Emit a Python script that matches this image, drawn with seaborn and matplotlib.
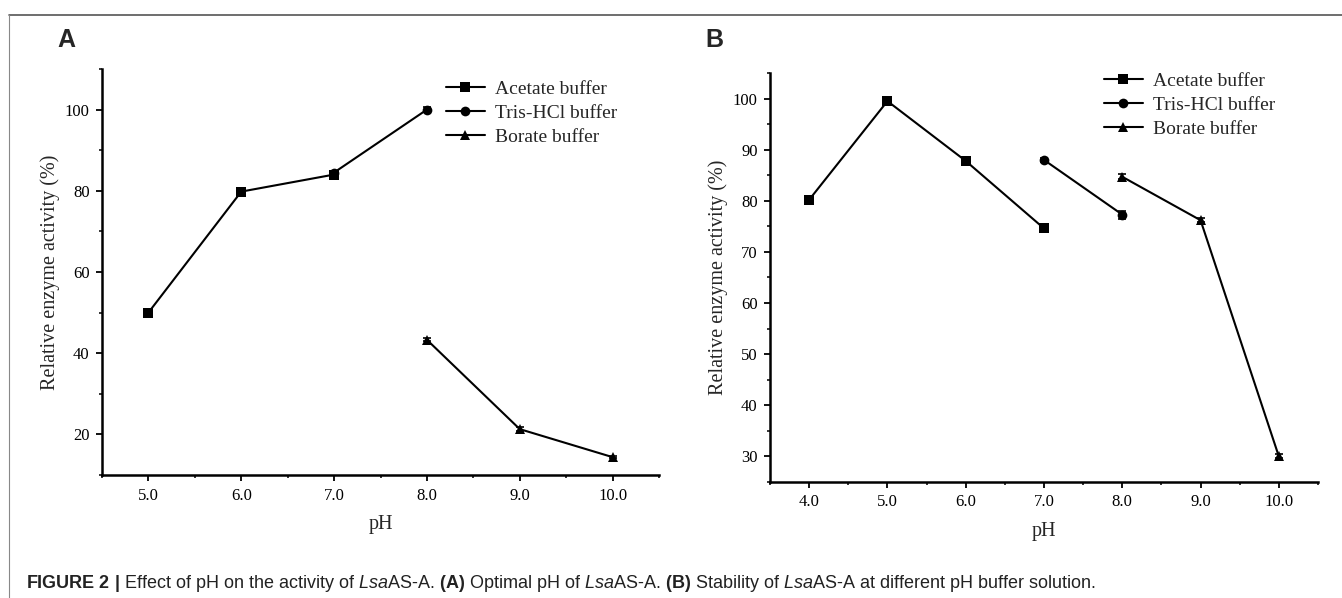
import numpy as np
import pandas as pd
import seaborn as sns
import matplotlib
matplotlib.use("Agg")
import matplotlib.pyplot as plt
from matplotlib.lines import Line2D
from matplotlib.ticker import MultipleLocator, FormatStrFormatter

# ---------------- data ----------------
buffers = ["Acetate buffer", "Tris-HCl buffer", "Borate buffer"]

# Panel A: optimal pH
a_acetate_ph = [5.0, 6.0, 7.0]
a_acetate_val = [50.0, 79.8, 84.0]
a_acetate_err = [0.3, 0.4, 0.4]
a_tris_ph = [7.0, 8.0]
a_tris_val = [84.5, 100.0]
a_tris_err = [0.5, 0.6]
a_borate_ph = [8.0, 9.0, 10.0]
a_borate_val = [43.3, 21.3, 14.4]
a_borate_err = [0.4, 0.4, 0.3]

# Panel B: pH stability
b_acetate_ph = [4.0, 5.0, 6.0, 7.0]
b_acetate_val = [80.2, 99.5, 87.8, 74.6]
b_acetate_err = [0.3, 0.3, 0.3, 0.3]
b_tris_ph = [7.0, 8.0]
b_tris_val = [88.0, 77.3]
b_tris_err = [0.4, 0.8]
b_borate_ph = [8.0, 9.0, 10.0]
b_borate_val = [84.7, 76.2, 30.0]
b_borate_err = [0.5, 0.4, 0.4]

xticks_a = [5.0, 6.0, 7.0, 8.0, 9.0, 10.0]
xticks_b = [4.0, 5.0, 6.0, 7.0, 8.0, 9.0, 10.0]

caption = (r"$\mathbf{FIGURE\ 2}$ $\mathbf{|}$ Effect of pH on the activity of $\mathit{Lsa}$AS-A. "
           r"$\mathbf{(A)}$ Optimal pH of $\mathit{Lsa}$AS-A. "
           r"$\mathbf{(B)}$ Stability of $\mathit{Lsa}$AS-A at different pH buffer solution.")

def make_df(parts):
    rows = []
    for name, ph, val, err in parts:
        for p, v, e in zip(ph, val, err):
            rows.append({"buffer": name, "pH": p, "activity": v, "err": e})
    return pd.DataFrame(rows)

df_a = make_df([(buffers[0], a_acetate_ph, a_acetate_val, a_acetate_err),
                (buffers[1], a_tris_ph, a_tris_val, a_tris_err),
                (buffers[2], a_borate_ph, a_borate_val, a_borate_err)])
df_b = make_df([(buffers[0], b_acetate_ph, b_acetate_val, b_acetate_err),
                (buffers[1], b_tris_ph, b_tris_val, b_tris_err),
                (buffers[2], b_borate_ph, b_borate_val, b_borate_err)])

# ---------------- style ----------------
sns.set_theme(style="ticks")
plt.rcParams["font.family"] = ["Liberation Serif", "DejaVu Serif"]
plt.rcParams["mathtext.fontset"] = "custom"
plt.rcParams["mathtext.rm"] = "Liberation Sans"
plt.rcParams["mathtext.it"] = "Liberation Sans:italic"
plt.rcParams["mathtext.bf"] = "Liberation Sans:bold"

W, H = 1342, 598
fig = plt.figure(figsize=(W / 100, H / 100), dpi=100)
fig.patch.set_facecolor("white")

palette = {b: "black" for b in buffers}
markers = {buffers[0]: "s", buffers[1]: "o", buffers[2]: "^"}

def draw(ax, df, xlim, ylim, xticks, ymajor, yminor, leg_anchor):
    sns.lineplot(data=df, x="pH", y="activity", hue="buffer", style="buffer",
                 hue_order=buffers, style_order=buffers,
                 palette=palette, markers=markers, dashes=False,
                 markersize=7, linewidth=1.5, markeredgewidth=0,
                 errorbar=None, ax=ax)
    ax.errorbar(df["pH"], df["activity"], yerr=df["err"], fmt="none",
                ecolor="black", elinewidth=1.2, capsize=3, capthick=1.2, zorder=3)
    ax.set_xlim(*xlim)
    ax.set_ylim(*ylim)
    ax.set_xticks(xticks)
    ax.xaxis.set_minor_locator(MultipleLocator(0.5))
    ax.xaxis.set_major_formatter(FormatStrFormatter("%.1f"))
    ax.yaxis.set_major_locator(MultipleLocator(ymajor))
    ax.yaxis.set_minor_locator(MultipleLocator(yminor))
    for s in ["top", "right"]:
        ax.spines[s].set_visible(False)
    for s in ["left", "bottom"]:
        ax.spines[s].set_linewidth(1.8)
        ax.spines[s].set_color("black")
    ax.tick_params(axis="both", which="major", direction="out", length=4,
                   width=1.3, colors="black", labelsize=12, pad=5)
    ax.tick_params(axis="both", which="minor", direction="out", length=2.5,
                   width=1.1, colors="black")
    ax.set_xlabel("pH", fontsize=14.5, labelpad=8)
    ax.set_ylabel("Relative enzyme activity (%)", fontsize=14.5, labelpad=3)
    ax.set_facecolor("white")
    handles, labels = ax.get_legend_handles_labels()
    if ax.get_legend():
        ax.get_legend().remove()
    ax.legend(handles, labels, loc="upper left", bbox_to_anchor=leg_anchor,
              bbox_transform=fig.transFigure, frameon=False, fontsize=14,
              handlelength=2.0, handletextpad=0.5, labelspacing=0.33,
              borderpad=0, borderaxespad=0)

ax_a = fig.add_axes([102 / W, 1 - 475 / H, (659 - 102) / W, (475 - 69) / H])
ax_b = fig.add_axes([770 / W, 1 - 482 / H, (1318 - 770) / W, (482 - 73) / H])

draw(ax_a, df_a, (4.5, 10.5), (10, 110), xticks_a, 20, 10, (446 / W, 1 - 80 / H))
draw(ax_b, df_b, (3.5, 10.5), (25, 105), xticks_b, 10, 5, (1104 / W, 1 - 72 / H))

# panel letters
fig.text(57 / W, 1 - 40 / H, "A", fontsize=18, fontweight="bold",
         family=["Liberation Sans"], va="center", ha="left")
fig.text(705 / W, 1 - 40 / H, "B", fontsize=18, fontweight="bold",
         family=["Liberation Sans"], va="center", ha="left")

# caption
fig.text(26 / W, 1 - 583 / H, caption, fontsize=13, family=["Liberation Sans"],
         va="center", ha="left", color="#222222")

# frame lines
fig.add_artist(Line2D([9 / W, 1.0], [1 - 15 / H, 1 - 15 / H], transform=fig.transFigure,
                      color="#555555", linewidth=1.2))
fig.add_artist(Line2D([9 / W, 9 / W], [1 - 15 / H, 0.0], transform=fig.transFigure,
                      color="#888888", linewidth=0.8))

fig.savefig("out.png", dpi=100, facecolor="white")
